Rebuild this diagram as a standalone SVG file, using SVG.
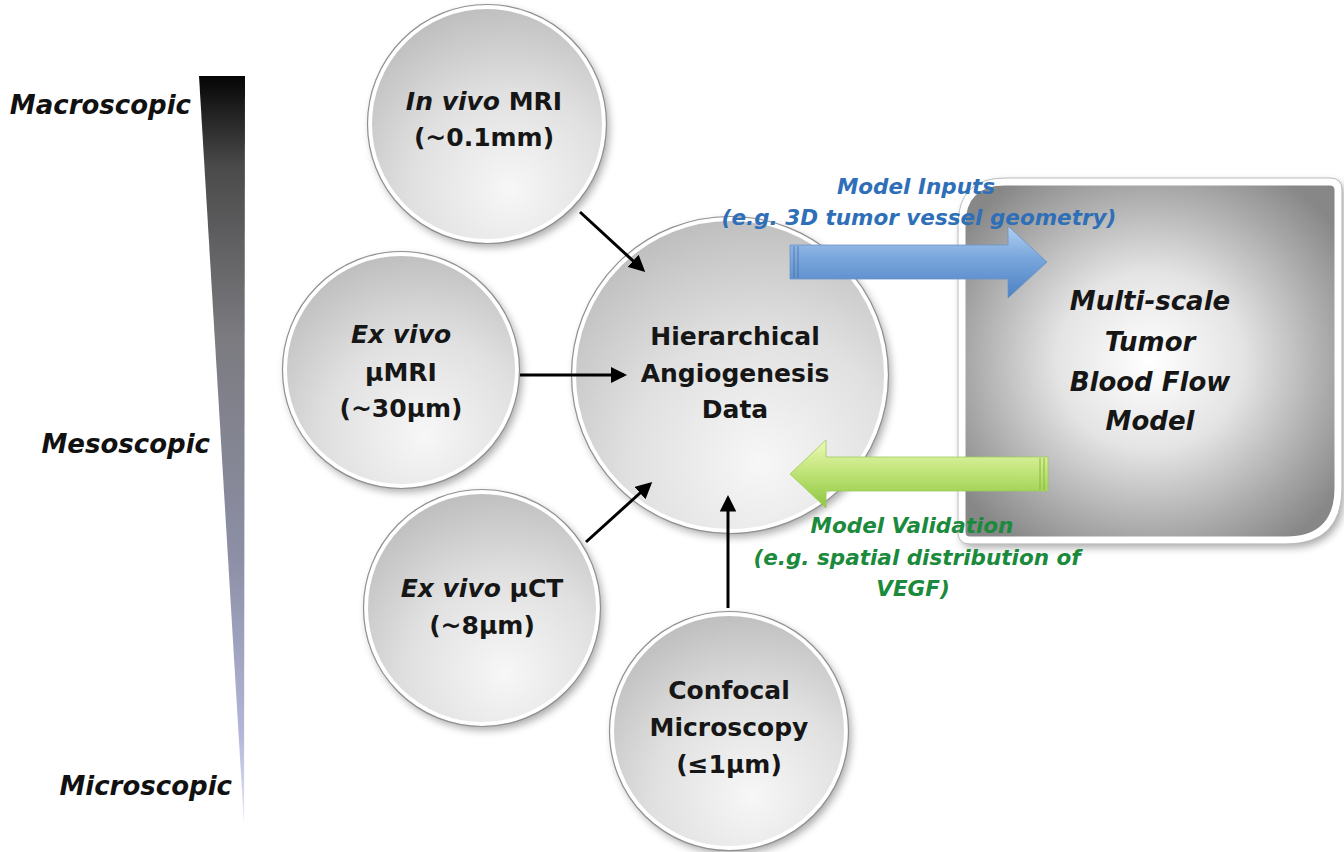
<svg xmlns="http://www.w3.org/2000/svg" width="1344" height="852" viewBox="0 0 1344 852">
  <defs>
    <style>
      .lbl { font-family: "DejaVu Sans", "Liberation Sans", sans-serif; font-weight: bold; fill: #161616; text-anchor: middle; }
      .disc-text { font-size: 25px; }
      .it { font-style: italic; }
      .scale { font-family: "DejaVu Sans", "Liberation Sans", sans-serif; font-weight: bold; font-style: italic; font-size: 26px; fill: #111; text-anchor: end; }
      .box-text { font-size: 26px; font-style: italic; }
      .note { font-family: "DejaVu Sans", "Liberation Sans", sans-serif; font-weight: bold; font-style: italic; font-size: 21.5px; text-anchor: middle; }
      .blue { fill: #2f6fb8; }
      .green { fill: #1b8a3c; }
      .disc { fill: url(#discFill); stroke: #ffffff; stroke-width: 4; filter: url(#shadow); }
      .rim { fill: none; stroke: #909090; stroke-width: 1.2; }
      .link { stroke: #000; stroke-width: 3; fill: none; marker-end: url(#head); }
    </style>
    <radialGradient id="discFill" cx="0.6" cy="0.78" r="0.85">
      <stop offset="0" stop-color="#f7f7f7"/>
      <stop offset="0.5" stop-color="#e0e0e0"/>
      <stop offset="1" stop-color="#b9b9b9"/>
    </radialGradient>
    <radialGradient id="boxFill" cx="0.5" cy="0.5" r="0.62">
      <stop offset="0" stop-color="#ffffff"/>
      <stop offset="0.4" stop-color="#e4e4e4"/>
      <stop offset="0.78" stop-color="#a8a8a8"/>
      <stop offset="1" stop-color="#878787"/>
    </radialGradient>
    <linearGradient id="wedgeFill" x1="0" y1="0" x2="0" y2="1">
      <stop offset="0" stop-color="#050505"/>
      <stop offset="0.12" stop-color="#4a4a4a"/>
      <stop offset="0.35" stop-color="#7b7b80"/>
      <stop offset="0.65" stop-color="#8d90a6"/>
      <stop offset="0.88" stop-color="#b3b6d8"/>
      <stop offset="1" stop-color="#e4e6f6"/>
    </linearGradient>
    <linearGradient id="blueFill" x1="0" y1="0" x2="0" y2="1">
      <stop offset="0" stop-color="#b3cff0"/>
      <stop offset="0.45" stop-color="#78a6dc"/>
      <stop offset="1" stop-color="#4e80c2"/>
    </linearGradient>
    <linearGradient id="greenFill" x1="0" y1="0" x2="0" y2="1">
      <stop offset="0" stop-color="#eef9b8"/>
      <stop offset="0.45" stop-color="#c2e57a"/>
      <stop offset="1" stop-color="#8ec640"/>
    </linearGradient>
    <filter id="shadow" x="-20%" y="-20%" width="140%" height="140%">
      <feGaussianBlur in="SourceAlpha" stdDeviation="4"/>
      <feOffset dx="3" dy="4" result="b"/>
      <feComponentTransfer><feFuncA type="linear" slope="0.35"/></feComponentTransfer>
      <feMerge><feMergeNode/><feMergeNode in="SourceGraphic"/></feMerge>
    </filter>
    <marker id="head" markerWidth="5.5" markerHeight="5.5" refX="4.5" refY="2.75" orient="auto" markerUnits="strokeWidth">
      <path d="M0,0 L5.5,2.75 L0,5.5 Z" fill="#000"/>
    </marker>
  </defs>

  <rect width="1344" height="852" fill="#ffffff"/>

  <!-- scale wedge and its labels -->
  <g id="scale">
    <polygon points="199,76 245,76 244,824" fill="url(#wedgeFill)"/>
    <text class="scale" x="191" y="114">Macroscopic</text>
    <text class="scale" x="210" y="453">Mesoscopic</text>
    <text class="scale" x="232" y="795">Microscopic</text>
  </g>

  <!-- imaging modalities -->
  <g id="node-mri">
    <circle class="disc" cx="487" cy="124" r="117"/>
    <circle class="rim" cx="487" cy="124" r="119.5"/>
    <text class="lbl disc-text" x="484" y="110"><tspan class="it">In vivo</tspan> MRI</text>
    <text class="lbl disc-text" x="484" y="146">(~0.1mm)</text>
  </g>

  <g id="node-umri">
    <circle class="disc" cx="401" cy="370" r="116"/>
    <circle class="rim" cx="401" cy="370" r="118.5"/>
    <text class="lbl disc-text it" x="401" y="343">Ex vivo</text>
    <text class="lbl disc-text" x="401" y="381">µMRI</text>
    <text class="lbl disc-text" x="401" y="417">(~30µm)</text>
  </g>

  <g id="node-uct">
    <circle class="disc" cx="482" cy="608" r="116"/>
    <circle class="rim" cx="482" cy="608" r="118.5"/>
    <text class="lbl disc-text" x="482" y="597"><tspan class="it">Ex vivo</tspan> µCT</text>
    <text class="lbl disc-text" x="482" y="634">(~8µm)</text>
  </g>

  <g id="node-confocal">
    <circle class="disc" cx="729" cy="731" r="117"/>
    <circle class="rim" cx="729" cy="731" r="119.5"/>
    <text class="lbl disc-text" x="729" y="699">Confocal</text>
    <text class="lbl disc-text" x="729" y="736">Microscopy</text>
    <text class="lbl disc-text" x="729" y="773">(≤1µm)</text>
  </g>

  <g id="node-data">
    <circle class="disc" cx="730" cy="375" r="156"/>
    <circle class="rim" cx="730" cy="375" r="158.5"/>
    <text class="lbl disc-text" x="735" y="345">Hierarchical</text>
    <text class="lbl disc-text" x="735" y="382">Angiogenesis</text>
    <text class="lbl disc-text" x="735" y="418">Data</text>
  </g>

  <!-- blood flow model -->
  <g id="node-model">
    <path d="M1005,182 H1330 Q1338,182 1338,190 V488 Q1338,540 1286,540 H970 Q962,540 962,532 V225 Q962,182 1005,182 Z"
          fill="url(#boxFill)" stroke="#ffffff" stroke-width="7" filter="url(#shadow)"/>
    <path d="M1005,178 H1330 Q1342,178 1342,190 V488 Q1342,544 1286,544 H970 Q958,544 958,532 V225 Q958,178 1005,178 Z"
          fill="none" stroke="#bdbdbd" stroke-width="1"/>
    <text class="lbl box-text" x="1150" y="310">Multi-scale</text>
    <text class="lbl box-text" x="1150" y="351">Tumor</text>
    <text class="lbl box-text" x="1150" y="391">Blood Flow</text>
    <text class="lbl box-text" x="1150" y="430">Model</text>
  </g>

  <!-- connectors -->
  <g id="connectors">
    <line class="link" x1="580" y1="212" x2="643" y2="270"/>
    <line class="link" x1="520" y1="375" x2="624" y2="375"/>
    <line class="link" x1="586" y1="542" x2="650" y2="484"/>
    <line class="link" x1="728" y1="608" x2="728" y2="498"/>

    <g id="flow-inputs">
      <path d="M790,245 H1008 V226 L1047,262 L1008,298 V279 H790 Z" fill="url(#blueFill)" stroke="#6b93c8" stroke-width="0.8"/>
      <path d="M794,246 V278 M798,246 V278" stroke="#4a72a8" stroke-width="1.2" opacity="0.7"/>
      <text class="note blue" x="916" y="194">Model Inputs</text>
      <text class="note blue" x="919" y="225">(e.g. 3D tumor vessel geometry)</text>
    </g>

    <g id="flow-validation">
      <path d="M1048,457 H826 V440 L790,474 L826,508 V491 H1048 Z" fill="url(#greenFill)" stroke="#9ccb5a" stroke-width="0.8"/>
      <path d="M1040,458 V490 M1044,458 V490" stroke="#86b83d" stroke-width="1.2" opacity="0.8"/>
      <text class="note green" x="912" y="533">Model Validation</text>
      <text class="note green" x="917" y="565">(e.g. spatial distribution of</text>
      <text class="note green" x="913" y="596">VEGF)</text>
    </g>
  </g>
</svg>
